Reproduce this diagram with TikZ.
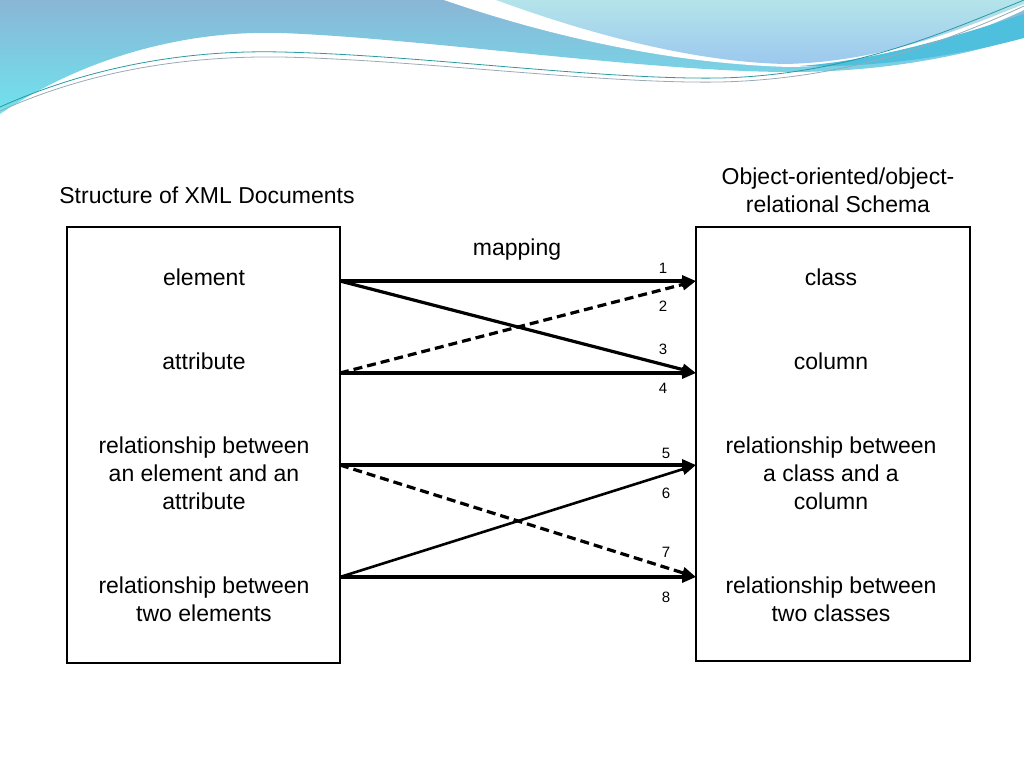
\documentclass[tikz,border=0pt]{standalone}
\usepackage{fontspec}
\setmainfont{Liberation Sans}
\usetikzlibrary{arrows.meta}
\definecolor{bantop}{HTML}{8AB6D6}
\definecolor{banbot}{HTML}{6FE3EE}
\definecolor{lighttop}{HTML}{B4E4EA}
\definecolor{lightbot}{HTML}{9CC8EE}
\definecolor{band}{HTML}{4FBFDE}
\definecolor{teal}{HTML}{2A9AA0}
\definecolor{greyline}{HTML}{9AAAB4}
\begin{document}
\begin{tikzpicture}[x=1pt,y=-1pt,
  lbl/.style={font=\fontsize{23}{28}\selectfont, align=center, inner sep=0pt},
  num/.style={font=\fontsize{15}{18}\selectfont, inner sep=0pt},
  box/.style={draw, line width=1.8pt, inner sep=0pt},
  arr/.style={line width=3.2pt, -{Triangle[length=14pt,width=11pt]}},
  darr/.style={arr, dash pattern=on 9pt off 5pt},
]
\useasboundingbox (0,0) rectangle (1024,768);
% banner
\shade[top color=bantop, bottom color=banbot]
  (0,0) -- (0,114) .. controls (80,60) and (180,30) .. (281,33)
  .. controls (420,38) and (650,72) .. (790,72)
  .. controls (900,72) and (980,50) .. (1024,37) -- (1024,0) -- cycle;
\fill[white] (444,0) .. controls (560,40) and (680,64) .. (790,67)
  .. controls (880,66) and (960,40) .. (1024,10) -- (1024,0) -- cycle;
\shade[top color=lighttop, bottom color=lightbot]
  (496,0) .. controls (600,38) and (700,62) .. (785,64)
  .. controls (880,62) and (960,30) .. (1024,4) -- (1024,0) -- cycle;
\fill[band] (800,66) .. controls (880,60) and (960,35) .. (1024,14)
  -- (1024,38) .. controls (960,55) and (880,68) .. (800,66) -- cycle;
\draw[teal, line width=0.8pt] (0,107) .. controls (100,62) and (200,50) .. (281,52)
  .. controls (420,55) and (600,80) .. (720,78)
  .. controls (850,75) and (950,30) .. (1024,0);
\draw[greyline, line width=0.8pt] (0,111) .. controls (100,66) and (200,56) .. (281,57)
  .. controls (420,60) and (600,84) .. (720,82)
  .. controls (850,79) and (950,40) .. (1024,6);
% titles
\node[lbl] (ltitle) at (207,195) {Structure of XML Documents};
\node[lbl] (rtitle) at (838,190) {Object-oriented/object-\\relational Schema};
\node[lbl] (map) at (517,250) {mapping};
% boxes
\node[box, minimum width=273pt, minimum height=436pt] (lbox) at (203.5,445) {};
\node[box, minimum width=274pt, minimum height=434pt] (rbox) at (833,444) {};
% left texts
\node[lbl] (le) at (204,277) {element};
\node[lbl] (la) at (204,361) {attribute};
\node[lbl] (lr1) at (204,473) {relationship between\\an element and an\\attribute};
\node[lbl] (lr2) at (204,599) {relationship between\\two elements};
% right texts
\node[lbl] (rc) at (831,277) {class};
\node[lbl] (rcol) at (831,361) {column};
\node[lbl] (rr1) at (831,473) {relationship between\\a class and a\\column};
\node[lbl] (rr2) at (831,599) {relationship between\\two classes};
% endpoints
\coordinate (a1) at (340,281);
\coordinate (a2) at (340,373);
\coordinate (a3) at (340,465);
\coordinate (a4) at (340,577);
\coordinate (b1) at (696,281);
\coordinate (b2) at (696,373);
\coordinate (b3) at (696,465);
\coordinate (b4) at (696,577);
% arrows
\draw[arr] (a1) -- (b1);
\draw[darr] (a2) -- (b1);
\draw[arr] (a1) -- (b2);
\draw[arr] (a2) -- (b2);
\draw[arr] (a3) -- (b3);
\draw[arr, line width=2.6pt] (a4) -- (b3);
\draw[darr] (a3) -- (b4);
\draw[arr] (a4) -- (b4);
% numbers
\node[num] (n1) at (663,268) {1};
\node[num] (n2) at (663,306) {2};
\node[num] (n3) at (663,349) {3};
\node[num] (n4) at (663,388) {4};
\node[num] (n5) at (666,453) {5};
\node[num] (n6) at (666,493) {6};
\node[num] (n7) at (666,552) {7};
\node[num] (n8) at (666,597) {8};
\end{tikzpicture}
\end{document}
